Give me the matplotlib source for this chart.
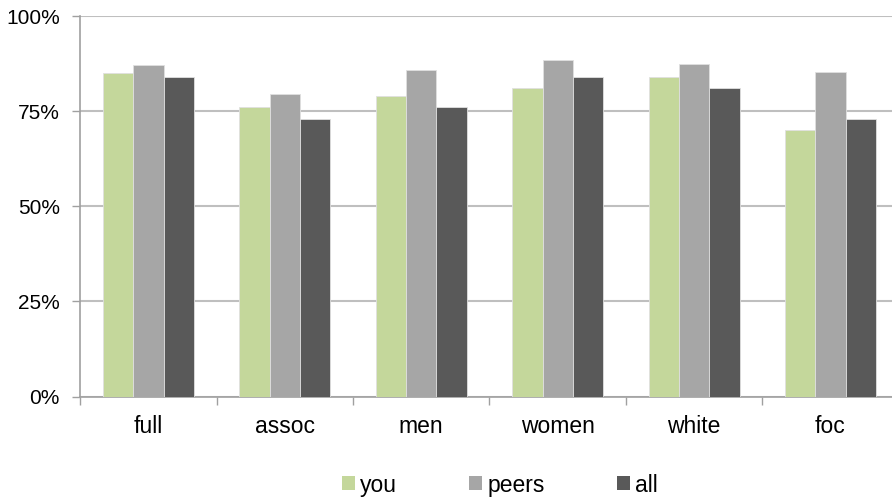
import matplotlib
matplotlib.use("Agg")
import matplotlib.pyplot as plt
import numpy as np
from matplotlib.patches import Patch
from matplotlib.ticker import FuncFormatter, FixedLocator

categories = ["full", "assoc", "men", "women", "white", "foc"]
series_names = ["you", "peers", "all"]
you = [85, 76, 79, 81, 84, 70]
peers = [87, 79.5, 85.7, 88.4, 87.5, 85.2]
all_ = [84, 73, 76, 84, 81, 73]
yticks = [0, 25, 50, 75, 100]

colors = ["#c4d79b", "#a6a6a6", "#595959"]

plt.rcParams['font.family'] = ['Liberation Sans', 'DejaVu Sans']

fig = plt.figure(figsize=(8.92, 4.98), dpi=100)
ax = fig.add_axes([80.2/892, 1-396.5/498, (898.7-80.2)/892, (396.5-16)/498])

x = np.arange(len(categories))
w = 0.222
for i, (vals, c) in enumerate(zip([you, peers, all_], colors)):
    ax.bar(x + (i-1)*w, vals, width=w, color=c, edgecolor='#e0e0e0', linewidth=0.6, zorder=3)

ax.set_xlim(-0.5, len(categories)-0.5)
ax.set_ylim(0, 100)
ax.yaxis.set_major_locator(FixedLocator(yticks))
ax.yaxis.set_major_formatter(FuncFormatter(lambda v, p: f"{int(v)}%"))
ax.grid(axis='y', color='#bfbfbf', linewidth=1.5, zorder=0)
ax.set_xticks(x)
ax.set_xticklabels(categories)
ax.xaxis.set_minor_locator(FixedLocator(np.arange(-0.5, len(categories), 1)))
ax.tick_params(axis='x', which='major', length=0, pad=13.5, labelsize=16.5)
ax.tick_params(axis='x', which='minor', length=6, width=1, color='#a0a0a0', direction='out')
ax.tick_params(axis='y', length=6, width=1, color='#a0a0a0', labelsize=15, pad=8.6)
for s in ['top', 'right']:
    ax.spines[s].set_visible(False)
for s in ['left', 'bottom']:
    ax.spines[s].set_color('#a0a0a0')
    ax.spines[s].set_linewidth(1.2)

handles = [Patch(facecolor=c, edgecolor='none') for c in colors]
fig.legend(handles, series_names, loc='center', bbox_to_anchor=(500/892, 1-485/498),
           ncol=3, frameon=False, fontsize=16.5, handlelength=0.57, handleheight=0.57,
           handletextpad=0.22, columnspacing=3.15, borderpad=0, borderaxespad=0)

fig.savefig("out.png", dpi=100)
